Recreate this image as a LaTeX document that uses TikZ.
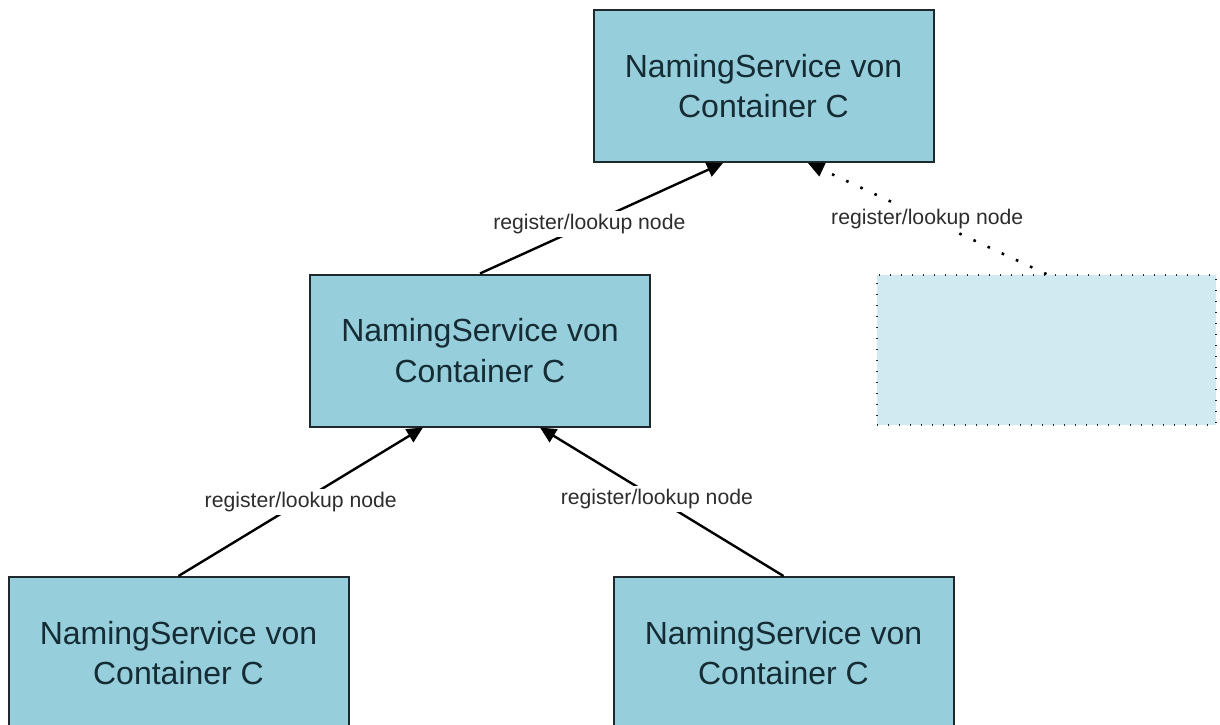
\documentclass[tikz,border=0pt]{standalone}
\usepackage{fontspec}
\setmainfont{Liberation Sans}
\usetikzlibrary{arrows.meta}

\definecolor{boxfill}{RGB}{150,206,220}
\definecolor{ghostfill}{RGB}{209,233,240}
\definecolor{boxline}{RGB}{30,40,45}
\definecolor{boxtext}{RGB}{22,44,52}
\definecolor{labeltext}{RGB}{45,45,45}

\tikzset{
  nsbox/.style={draw=boxline, line width=1pt, fill=boxfill, rectangle,
    minimum width=170pt, minimum height=76pt, inner sep=0pt,
    align=center, text=boxtext, font=\fontsize{16}{20.3}\selectfont},
  ghostbox/.style={draw=boxline, line width=0.9pt, fill=ghostfill, rectangle,
    dash pattern=on 0.7pt off 4.8pt,
    minimum width=169.5pt, minimum height=75pt, inner sep=0pt},
  link/.style={draw=black, line width=1.2pt,
    -{Triangle[length=8pt, width=7.5pt]}},
  ghostlink/.style={draw=black, line width=1.3pt,
    dash pattern=on 1.3pt off 6.5pt,
    -{Triangle[length=8pt, width=7.5pt, line width=0pt, sep=0pt]}},
  linklabel/.style={fill=white, inner sep=1.5pt, text=labeltext,
    font=\fontsize{10.6}{12}\selectfont}
}

\begin{document}
\begin{tikzpicture}[x=0.5pt, y=-0.5pt]
  \clip (0,0) rectangle (1220,724);
  \fill[white] (0,0) rectangle (1220,724);

  % naming service hierarchy
  \node[nsbox] (root)  at (763.5, 86)   {NamingService von\\Container C};
  \node[nsbox] (mid)   at (480, 350.5)  {NamingService von\\Container C};
  \node[nsbox] (left)  at (178.5, 653)  {NamingService von\\Container C};
  \node[nsbox] (right) at (783.5, 653)  {NamingService von\\Container C};
  \node[ghostbox] (ghost) at (1046.5, 350) {};

  % attachment points on the parents' lower edges
  \coordinate (rootL) at ([xshift=-20.25pt]root.south);
  \coordinate (rootR) at ([xshift=22.25pt]root.south);
  \coordinate (midL)  at ([xshift=-28.5pt]mid.south);
  \coordinate (midR)  at ([xshift=30pt]mid.south);

  % registrations
  \draw[link] (mid.north) -- node[linklabel, pos=0.45] {register/lookup node} (rootL);
  \draw[ghostlink] (ghost.north) -- node[linklabel, pos=0.5] {register/lookup node} (rootR);
  \draw[link] (left.north) -- node[linklabel, pos=0.5] {register/lookup node} (midL);
  \draw[link] (right.north) -- node[linklabel, pos=0.52] {register/lookup node} (midR);
\end{tikzpicture}
\end{document}
